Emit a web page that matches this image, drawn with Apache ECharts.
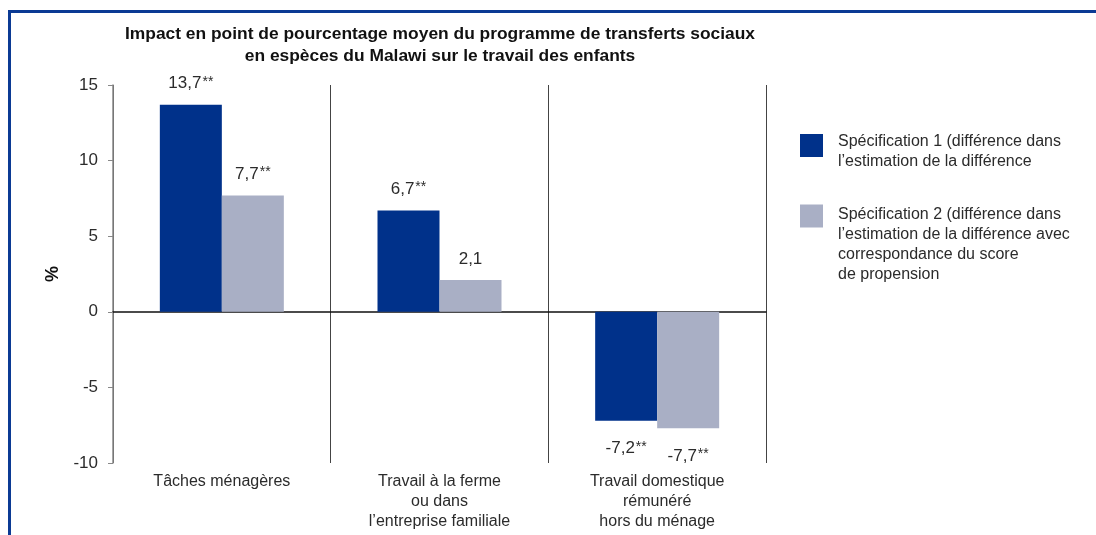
<!DOCTYPE html>
<html>
<head>
<meta charset="utf-8">
<script src="https://cdn.jsdelivr.net/npm/echarts@6/dist/echarts.min.js"></script>
<style>
html,body{margin:0;padding:0;background:#fff;}
#c{width:1096px;height:535px;}
</style>
</head>
<body>
<div id="c"></div>
<script>
const titleLines = ['Impact en point de pourcentage moyen du programme de transferts sociaux', 'en espèces du Malawi sur le travail des enfants'];
const categories = ['Tâches ménagères', 'Travail à la ferme\nou dans\nl’entreprise familiale', 'Travail domestique\nrémunéré\nhors du ménage'];
const seriesNames = ['Spécification 1 (différence dans\nl’estimation de la différence', 'Spécification 2 (différence dans\nl’estimation de la différence avec\ncorrespondance du score\nde propension'];
const spec1 = [13.7, 6.7, -7.2];
const spec2 = [7.7, 2.1, -7.7];
const sig1 = ['**', '**', '**'];
const sig2 = ['**', '', '**'];
const yTicks = [-10, -5, 0, 5, 10, 15];
const colors = ['#00318A', '#A9AFC5'];

const FONT = '"Liberation Sans", Arial, sans-serif';
const TXT = '#2b2b2b';

function makeData(vals, sigs) {
  return vals.map((v, i) => ({
    value: v,
    sig: sigs[i],
    label: { position: v < 0 ? 'bottom' : 'top', distance: v < 0 ? 19 : 12 }
  }));
}
function fmt(p) {
  const s = String(p.data.value).replace('.', ',');
  return p.data.sig ? '{v|' + s + '}{s|' + p.data.sig + '}' : '{v|' + s + '}';
}
const labelRich = {
  v: { fontSize: 17, fontFamily: FONT, color: TXT, lineHeight: 18 },
  s: { fontSize: 14, fontFamily: FONT, color: TXT, lineHeight: 18, verticalAlign: 'top', padding: [0, 0, 2, 1] }
};

function legendFor(i, top, padH) {
  return {
    left: 800, top: top, padding: 0, orient: 'vertical',
    itemWidth: 23, itemHeight: 23, icon: 'rect',
    data: [seriesNames[i]], selectedMode: false,
    formatter: function (name) {
      return '{p| }\n' + name.split('\n').map(l => '{t|' + l + '}').join('\n');
    },
    textStyle: {
      fontSize: 16, fontFamily: FONT, color: TXT,
      rich: {
        p: { fontSize: 2, lineHeight: padH },
        t: { fontSize: 16, fontFamily: FONT, color: TXT, lineHeight: 20, padding: [0, 0, 0, 10] }
      }
    }
  };
}

const chart = echarts.init(document.getElementById('c'));
chart.setOption({
  animation: false,
  color: colors,
  grid: { left: 113, right: 330, top: 85, bottom: 72 },
  graphic: [
    { type: 'rect', shape: { x: 9.5, y: 11.5, width: 1200, height: 700 }, style: { fill: 'none', stroke: '#0B3A94', lineWidth: 3 }, silent: true },
    { type: 'text', x: 440, y: 45, style: { text: titleLines.join('\n'), align: 'center', verticalAlign: 'middle', font: 'bold 17.4px "Liberation Sans", Arial, sans-serif', lineHeight: 22, fill: '#111' }, silent: true }
  ],
  legend: [legendFor(0, 124.5, 12), legendFor(1, 175, 57)],
  xAxis: [
    {
      type: 'category', data: categories, position: 'bottom',
      axisLine: { show: false, onZero: false }, axisTick: { show: false },
      axisLabel: { fontSize: 16, fontFamily: FONT, color: TXT, lineHeight: 20, margin: 9, interval: 0 },
      splitLine: { show: true, lineStyle: { color: '#444', width: 1 } }
    },
    {
      type: 'category', data: categories, position: 'bottom',
      axisLine: { show: true, onZero: true, lineStyle: { color: '#111', width: 1.5 } },
      axisTick: { show: false }, axisLabel: { show: false }, splitLine: { show: false }
    }
  ],
  yAxis: {
    type: 'value', min: yTicks[0], max: yTicks[yTicks.length - 1], interval: 5,
    name: '%', nameLocation: 'middle', nameGap: 46,
    nameTextStyle: { fontSize: 18, fontWeight: 'bold', fontFamily: FONT, color: '#111' },
    axisLine: { show: true, lineStyle: { color: '#888', width: 1.5 } },
    axisTick: { show: true, inside: false, length: 5, lineStyle: { color: '#888' } },
    axisLabel: { fontSize: 17, fontFamily: FONT, color: TXT, margin: 15 },
    splitLine: { show: false }
  },
  series: [
    { name: seriesNames[0], type: 'bar', barWidth: 62, barGap: '0%', data: makeData(spec1, sig1),
      label: { show: true, formatter: fmt, rich: labelRich } },
    { name: seriesNames[1], type: 'bar', barWidth: 62, barGap: '0%', data: makeData(spec2, sig2),
      label: { show: true, formatter: fmt, rich: labelRich } }
  ]
});
</script>
</body>
</html>
